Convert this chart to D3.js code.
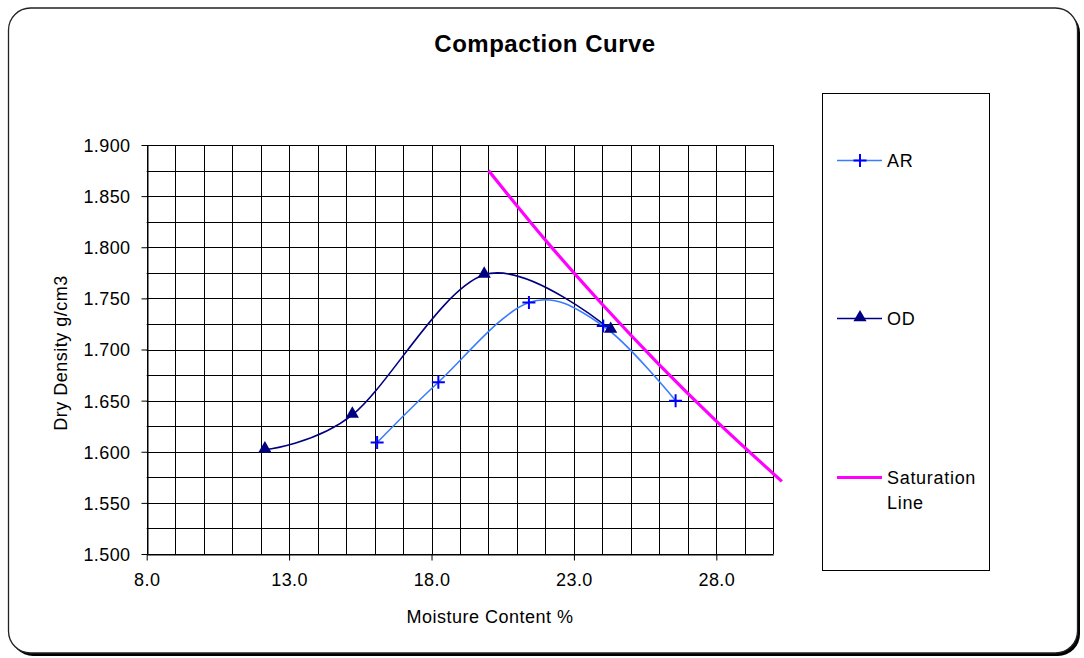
<!DOCTYPE html>
<html>
<head>
<meta charset="utf-8">
<script src="https://cdn.jsdelivr.net/npm/d3@7"></script>
<style>
  html, body { margin: 0; padding: 0; background: #fff; }
  svg { display: block; font-family: "Liberation Sans", Arial, Helvetica, sans-serif; }
</style>
</head>
<body>
<svg id="chart" width="1084" height="658"></svg>
<script>
// ---- Data ----
const arMoisture = [16.09, 18.24, 21.42, 24.03, 26.57];
const arDensity  = [1.609, 1.668, 1.746, 1.723, 1.650];

const odMoisture = [12.15, 15.22, 19.85, 24.29];
const odDensity  = [1.602, 1.636, 1.773, 1.719];

const satMoisture = [20.0, 22.0, 24.0, 26.0, 28.0, 30.3];
const satDensity  = [1.875, 1.807, 1.744, 1.685, 1.630, 1.571];

const xTickValues = [8, 13, 18, 23, 28];
const yTickValues = [1.5, 1.55, 1.6, 1.65, 1.7, 1.75, 1.8, 1.85, 1.9];
const legendLabels = ["AR", "OD", "Saturation Line"];

// ---- Layout ----
const svg = d3.select("#chart");
const plot = { left: 146.7, top: 145, right: 773.3, bottom: 554 };

const x = d3.scaleLinear().domain([8, 30]).range([plot.left, plot.right]);
const y = d3.scaleLinear().domain([1.5, 1.9]).range([plot.bottom, plot.top]);

// Outer frame with shadow
svg.append("rect").attr("x", 11).attr("y", 11).attr("width", 1069).attr("height", 645)
  .attr("rx", 22).attr("ry", 22).attr("fill", "#000");
svg.append("rect").attr("x", 8.5).attr("y", 8).attr("width", 1069).attr("height", 645)
  .attr("rx", 22).attr("ry", 22).attr("fill", "#fff").attr("stroke", "#222").attr("stroke-width", 1.3);

// Title
svg.append("text").attr("x", 545).attr("y", 52).attr("text-anchor", "middle")
  .attr("font-size", 24).attr("font-weight", "bold").attr("fill", "#000")
  .style("letter-spacing", "0.5px")
  .text("Compaction Curve");

// Gridlines
const g = svg.append("g");
const xGrid = d3.range(8, 30.001, 1);
const yGrid = d3.range(1.5, 1.9001, 0.025);
g.selectAll(".vg").data(xGrid).enter().append("line")
  .attr("x1", d => Math.round(x(d)) + 0.5).attr("x2", d => Math.round(x(d)) + 0.5)
  .attr("y1", plot.top).attr("y2", plot.bottom)
  .attr("stroke", "#000").attr("stroke-width", 1);
g.selectAll(".hg").data(yGrid).enter().append("line")
  .attr("x1", plot.left).attr("x2", plot.right)
  .attr("y1", d => Math.round(y(d)) + 0.5).attr("y2", d => Math.round(y(d)) + 0.5)
  .attr("stroke", "#000").attr("stroke-width", 1);

// Axes
const xAxis = d3.axisBottom(x).tickValues(xTickValues).tickFormat(d3.format(".1f"))
  .tickSizeInner(6).tickSizeOuter(0).tickPadding(13);
const yAxis = d3.axisLeft(y).tickValues(yTickValues).tickFormat(d3.format(".3f"))
  .tickSizeInner(6).tickSizeOuter(0).tickPadding(11);

const gx = svg.append("g").attr("transform", `translate(0,${Math.round(plot.bottom) + 0.5})`).call(xAxis);
const gy = svg.append("g").attr("transform", `translate(${Math.round(plot.left) + 0.5},0)`).call(yAxis);
[gx, gy].forEach(a => {
  a.select(".domain").attr("stroke", "#000");
  a.selectAll(".tick line").attr("stroke", "#000");
  a.selectAll(".tick text").attr("font-size", 18).attr("fill", "#000")
    .attr("font-family", "'Liberation Sans', Arial, sans-serif").style("letter-spacing", "0.4px");
});
gy.selectAll(".tick text").attr("dy", "0.36em");

// Axis titles
svg.append("text").attr("x", 490).attr("y", 623).attr("text-anchor", "middle")
  .attr("font-size", 18).attr("fill", "#000").style("letter-spacing", "0.5px")
  .text("Moisture Content %");
svg.append("text").attr("transform", "translate(67,353) rotate(-90)").attr("text-anchor", "middle")
  .attr("font-size", 18).attr("fill", "#000").style("letter-spacing", "0.5px")
  .text("Dry Density g/cm3");

// Series
const smooth = d3.line().x(d => x(d[0])).y(d => y(d[1])).curve(d3.curveCardinal.tension(0));

const arPts = arMoisture.map((m, i) => [m, arDensity[i]]);
const odPts = odMoisture.map((m, i) => [m, odDensity[i]]);
const satPts = satMoisture.map((m, i) => [m, satDensity[i]]);

const AR_LINE = "#3a7cff", AR_MARK = "#0000ff", OD_COL = "#000080", SAT_COL = "#ff00ff";

svg.append("path").attr("d", smooth(satPts)).attr("fill", "none")
  .attr("stroke", SAT_COL).attr("stroke-width", 3.2);
svg.append("path").attr("d", smooth(odPts)).attr("fill", "none")
  .attr("stroke", OD_COL).attr("stroke-width", 1.6);
svg.append("path").attr("d", smooth(arPts)).attr("fill", "none")
  .attr("stroke", AR_LINE).attr("stroke-width", 1.6);

const tri = d3.symbol().type(d3.symbolTriangle).size(75);
function plus(cx, cy, s) { return `M${cx - s},${cy}H${cx + s}M${cx},${cy - s}V${cy + s}`; }

svg.selectAll(".odm").data(odPts).enter().append("path")
  .attr("d", tri).attr("transform", d => `translate(${x(d[0])},${y(d[1]) - 1})`)
  .attr("fill", OD_COL);
svg.selectAll(".arm").data(arPts).enter().append("path")
  .attr("d", d => plus(x(d[0]), y(d[1]), 6.5)).attr("stroke", AR_MARK)
  .attr("stroke-width", 2).attr("fill", "none");

// Legend
svg.append("rect").attr("x", 822.5).attr("y", 93.5).attr("width", 167).attr("height", 477)
  .attr("fill", "#fff").attr("stroke", "#000").attr("stroke-width", 1);

const lg = [
  { y: 160.5, type: "ar" },
  { y: 318.5, type: "od" },
  { y: 477.5, type: "sat" }
];
lg.forEach((e, i) => {
  const col = e.type === "ar" ? AR_LINE : e.type === "od" ? OD_COL : SAT_COL;
  svg.append("line").attr("x1", 837).attr("x2", 882).attr("y1", e.y).attr("y2", e.y)
    .attr("stroke", col).attr("stroke-width", e.type === "sat" ? 3.2 : 1.6);
  if (e.type === "ar") {
    svg.append("path").attr("d", plus(860, e.y, 6.5)).attr("stroke", AR_MARK).attr("stroke-width", 2);
  } else if (e.type === "od") {
    svg.append("path").attr("d", tri).attr("transform", `translate(860,${e.y - 1})`).attr("fill", OD_COL);
  }
  const t = svg.append("text").attr("x", 887).attr("y", e.y + 6.5).attr("font-size", 18)
    .attr("fill", "#000").style("letter-spacing", "0.7px");
  if (e.type === "sat") {
    const parts = legendLabels[i].split(" ");
    t.append("tspan").attr("x", 887).attr("dy", 0).text(parts[0]);
    t.append("tspan").attr("x", 887).attr("dy", 24.5).text(parts[1]);
  } else {
    t.text(legendLabels[i]);
  }
});
</script>
</body>
</html>
